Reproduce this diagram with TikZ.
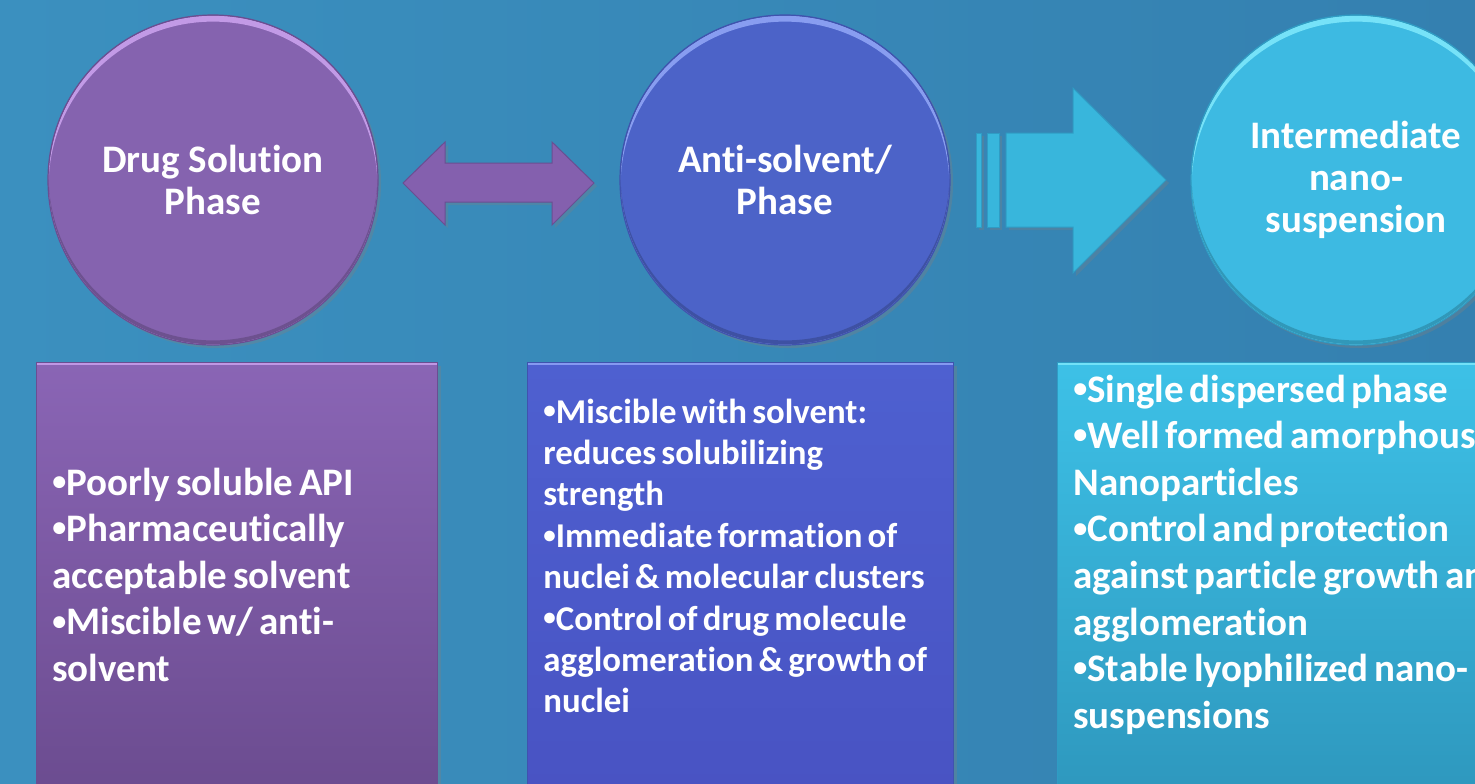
\documentclass[tikz,border=0pt]{standalone}
\usepackage{fontspec}
\setmainfont{Carlito}[Ligatures=NoCommon]
\usetikzlibrary{shadows,calc}
\definecolor{bgL}{HTML}{3B90BF}
\definecolor{bgR}{HTML}{3480B0}
\definecolor{purC}{HTML}{8563AF}
\definecolor{purD}{HTML}{6A4E92}
\definecolor{purH}{HTML}{CDA4F0}
\definecolor{purT}{HTML}{8A65B5}
\definecolor{purB}{HTML}{694A8D}
\definecolor{bluC}{HTML}{4C63C8}
\definecolor{bluD}{HTML}{3F53AE}
\definecolor{bluH}{HTML}{93A8F8}
\definecolor{bluT}{HTML}{4E60D0}
\definecolor{bluB}{HTML}{4852C2}
\definecolor{cyaC}{HTML}{3DBAE2}
\definecolor{cyaD}{HTML}{2F9CC4}
\definecolor{cyaH}{HTML}{80EAFC}
\definecolor{cyaT}{HTML}{3DC1E7}
\definecolor{cyaB}{HTML}{2D95BB}
\definecolor{arrP}{HTML}{8460AE}
\definecolor{arrC}{HTML}{38B6DC}
\DeclareRobustCommand\bul{\raisebox{0.12em}{\scalebox{0.72}{•}}}
\newcommand\tightsp{\spaceskip=0.15em plus 0.02em\relax\xspaceskip=0.2em\relax}
\tikzset{
  phase/.style n args={3}{circle, minimum size=165pt, inner sep=0pt,
    fill=#1, draw=#2, line width=0.6pt,
    drop shadow={shadow xshift=1.5pt, shadow yshift=-1.5pt, opacity=0.35},
    path picture={
      \fill[#3, opacity=0.85, even odd rule] (path picture bounding box.center) circle[radius=82.2pt]
        ([yshift=-3pt]path picture bounding box.center) circle[radius=82.2pt];
      \fill[black, opacity=0.18, even odd rule] (path picture bounding box.center) circle[radius=82.2pt]
        ([yshift=2pt]path picture bounding box.center) circle[radius=82.2pt];},
    text=white, font=\bfseries\fontsize{19.5pt}{21pt}\selectfont, align=center},
  infobox/.style n args={4}{rectangle, inner sep=0pt, anchor=north west,
    top color=#1, bottom color=#2, draw=#3, line width=0.5pt,
    drop shadow={shadow xshift=1.5pt, shadow yshift=-1.5pt, opacity=0.35},
    path picture={\draw[#4, line width=1.4pt, opacity=0.8]
      ([yshift=-0.7pt]path picture bounding box.north west) -- ([yshift=-0.7pt]path picture bounding box.north east);}},
  infotext/.style={anchor=base west, text width=320pt, align=left, inner sep=0pt,
    text=white, font=\bfseries\fontsize{19.5pt}{23.3pt}\selectfont},
  smalltext/.style={infotext, font=\bfseries\fontsize{17.4pt}{20.7pt}\selectfont},
  blockarrow/.style n args={2}{fill=#1, draw=#2, line width=0.5pt, line join=miter,
    drop shadow={shadow xshift=1.5pt, shadow yshift=-1.5pt, opacity=0.3}}
}
\begin{document}
\begin{tikzpicture}[x=0.5pt,y=-0.5pt]
\useasboundingbox (0,0) rectangle (1475,783);
\clip (0,0) rectangle (1475,783);
\shade[left color=bgL, right color=bgR] (0,0) rectangle (1475,783);

% circles
\node[phase={purC}{purD}{purH}] (c1) at (213,180) {Drug Solution\\Phase};
\node[phase={bluC}{bluD}{bluH}] (c2) at (785,180) {Anti-solvent/\\Phase};
\node[phase={cyaC}{cyaD}{cyaH}] (c3) at (1356,180) {Intermediate\\nano-\\suspension};

% double arrow between c1 and c2
\coordinate (da) at (403,183);
\coordinate (db) at (594,183);
\draw[blockarrow={arrP}{purD}] (da) -- ($(da)+(42,-41)$) -- ($(da)+(42,-20)$)
  -- ($(db)+(-42,-20)$) -- ($(db)+(-42,-41)$) -- (db) -- ($(db)+(-42,42)$)
  -- ($(db)+(-42,19)$) -- ($(da)+(42,19)$) -- ($(da)+(42,42)$) -- cycle;

% striped block arrow between c2 and c3
\coordinate (ra) at (976,180);
\coordinate (rb) at (1166,180);
\draw[blockarrow={arrC}{cyaD}] ($(ra)+(0,-47)$) rectangle ($(ra)+(5,47)$);
\draw[blockarrow={arrC}{cyaD}] ($(ra)+(11,-47)$) rectangle ($(ra)+(23,47)$);
\draw[blockarrow={arrC}{cyaD}] ($(ra)+(30,-47)$) -- ($(rb)+(-93,-47)$) -- ($(rb)+(-93,-92)$)
  -- (rb) -- ($(rb)+(-93,93)$) -- ($(rb)+(-93,47)$) -- ($(ra)+(30,47)$) -- cycle;

% boxes
\node[infobox={purT}{purB}{purD}{purH}, minimum width=200.5pt, minimum height=230pt] (b1) at (36,362) {};
\node[infobox={bluT}{bluB}{bluD}{bluH}, minimum width=213pt, minimum height=230pt] (b2) at (527,362) {};
\node[infobox={cyaT}{cyaB}{cyaD}{cyaH}, minimum width=240pt, minimum height=230pt] (b3) at (1057,362) {};

% texts
\node[infotext] (t1) at (52,495) {\tightsp\bul Poorly soluble API\\\bul Pharmaceutically\\acceptable solvent\\\bul Miscible w/ anti-\\solvent};
\node[smalltext] (t2) at (543,423) {\tightsp\bul Miscible with solvent:\\reduces solubilizing\\strength\\\bul Immediate formation of\\nuclei \& molecular clusters\\\bul Control of drug molecule\\agglomeration \& growth of\\nuclei};
\node[infotext] (t3) at (1073,402) {\tightsp\bul Single dispersed phase\\\bul Well formed amorphous\\Nanoparticles\\\bul Control and protection\\against particle growth and\\agglomeration\\\bul Stable lyophilized nano-\\suspensions};
\end{tikzpicture}
\end{document}
